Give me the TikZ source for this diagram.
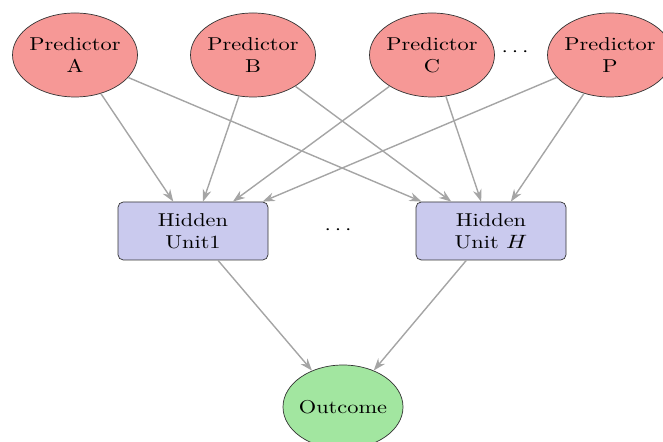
\documentclass[tikz,border=0pt]{standalone}
\usetikzlibrary{shapes.geometric,arrows.meta}

\definecolor{predred}{RGB}{246,152,150}
\definecolor{hidblue}{RGB}{202,202,238}
\definecolor{outgreen}{RGB}{162,230,160}
\definecolor{edgegray}{RGB}{165,165,165}

\begin{document}
\begin{tikzpicture}[
    every node/.style={align=center, xscale=1.2, font=\fontsize{10.6}{12.8}\selectfont},
    pred/.style={ellipse, draw=black!80, fill=predred, inner xsep=-4pt, inner ysep=0pt, minimum width=2.083cm, minimum height=1.68cm},
    hid/.style={rectangle, rounded corners=3pt, draw=black!80, fill=hidblue, minimum width=2.5cm, minimum height=1.16cm},
    outc/.style={ellipse, draw=black!80, fill=outgreen, inner xsep=-4pt, inner ysep=0pt, minimum width=2.0cm, minimum height=1.68cm},
    link/.style={draw=edgegray, line width=0.8pt, -{Stealth[length=7pt,width=5pt]}}
]
\useasboundingbox (0,0) rectangle (13.26,8.84);

\node[pred] (predA) at (1.50,7.74) {Predictor\\A};
\node[pred] (predB) at (5.06,7.74) {Predictor\\B};
\node[pred] (predC) at (8.64,7.74) {Predictor\\C};
\node[pred] (predP) at (12.20,7.74) {Predictor\\P};
\node (dotsP) at (10.30,7.80) {$\cdots$};

\node[hid] (hid1) at (3.86,4.22) {Hidden\\Unit1};
\node[hid] (hidH) at (9.82,4.22) {Hidden\\Unit $H$};
\node (dotsH) at (6.76,4.24) {$\cdots$};

\node[outc] (outcome) at (6.86,0.70) {Outcome};

\foreach \p in {predA,predB,predC,predP} {
  \draw[link] (\p) -- (hid1);
  \draw[link] (\p) -- (hidH);
}
\draw[link] (hid1) -- (outcome);
\draw[link] (hidH) -- (outcome);
\end{tikzpicture}
\end{document}
